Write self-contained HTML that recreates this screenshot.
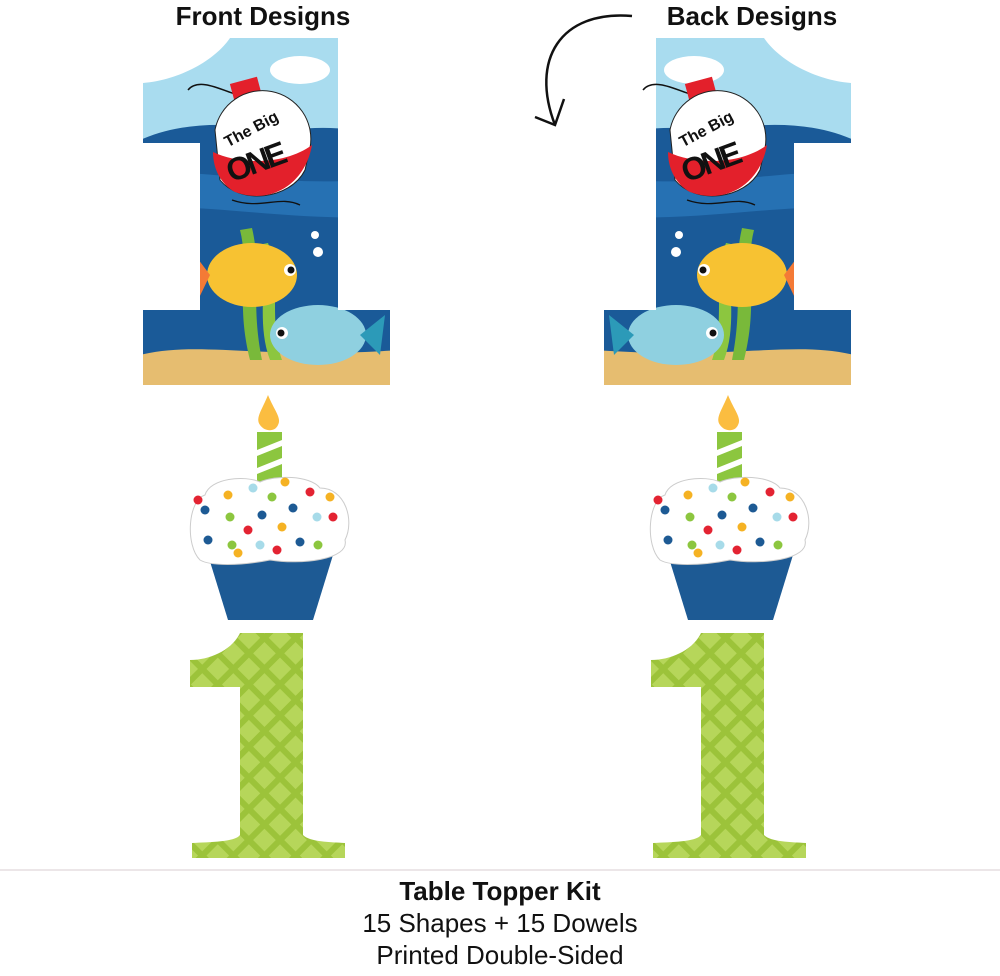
<!DOCTYPE html>
<html><head><meta charset="utf-8"><style>
html,body{margin:0;padding:0;background:#fff;}
body{width:1000px;height:976px;overflow:hidden;position:relative;font-family:"Liberation Sans",sans-serif;}
.t{position:absolute;width:1000px;text-align:center;color:#111;}
</style></head><body>
<svg width="1000" height="976" style="position:absolute;left:0;top:0">
<defs>
<clipPath id="one"><path d="M230,38 L338,38 L338,310 L390,310 L390,385 L143,385 L143,310 L200,310 L200,143 L143,143 L143,83 C180,80 215,60 230,38 Z"/></clipPath>
<pattern id="diam" width="22" height="22" patternUnits="userSpaceOnUse" patternTransform="rotate(45)"><rect width="22" height="22" fill="#9cc33a"/><rect x="3" y="3" width="16" height="16" fill="#b6d65a"/></pattern>
<g id="bigbg">
<g clip-path="url(#one)">
<rect x="140" y="30" width="260" height="360" fill="#a9dcef"/>
<ellipse cx="300" cy="70" rx="30" ry="14" fill="#fff"/>
<path d="M140,140 C190,118 240,125 290,130 C330,125 360,130 400,135 L400,390 L140,390Z" fill="#1a5a98"/>
<path d="M140,175 C200,165 260,190 400,178 L400,215 C300,225 200,200 140,210Z" fill="#2671b3"/>
<path d="M140,355 C200,340 260,360 400,350 L400,390 L140,390Z" fill="#e6bd70"/>
<path d="M240,230 C250,270 235,300 250,360 L262,360 C250,300 262,270 252,228Z" fill="#79b93a"/>
<path d="M258,245 C270,280 255,320 270,360 L282,360 C268,320 282,280 268,243Z" fill="#8cc63f"/>
<ellipse cx="252" cy="275" rx="45" ry="32" fill="#f7c232"/>
<path d="M210,275 L195,255 L198,300Z" fill="#f47a36"/>
<circle cx="290" cy="270" r="6" fill="#fff"/><circle cx="291" cy="270" r="3.5" fill="#111"/>
<ellipse cx="318" cy="335" rx="48" ry="30" fill="#8fd0e0"/>
<path d="M360,335 L385,315 L380,355Z" fill="#2c9ab8"/>
<circle cx="282" cy="333" r="6" fill="#fff"/><circle cx="281" cy="333" r="3.5" fill="#111"/>
<circle cx="315" cy="235" r="4" fill="#fff"/><circle cx="318" cy="252" r="5" fill="#fff"/>
</g>
</g>
<g id="bobber">
<path d="M188,90 C200,75 230,95 240,95" stroke="#111" stroke-width="1.5" fill="none"/>
<rect x="232" y="80" width="28" height="20" fill="#e3202b" transform="rotate(-15 246 90)"/>
<path d="M215,130 A45,45 0 0 1 310,148 L305,170 C290,200 240,205 220,180 Z" fill="#fff" stroke="#222" stroke-width="1"/>
<path d="M213,152 C240,165 285,165 312,145 C305,185 270,205 235,192 C222,185 213,170 213,152Z" fill="#e3202b"/>
<text x="222" y="140" font-family="Liberation Sans" font-weight="bold" font-size="16" transform="rotate(-28 240 132)" fill="#111">The Big</text>
<text x="225" y="172" font-family="Liberation Sans" font-weight="bold" font-size="32" transform="rotate(-20 258 160)" fill="#111" textLength="62">ONE</text>
<path d="M232,200 C260,210 280,195 300,205" stroke="#111" stroke-width="1.3" fill="none"/>
</g>
<g id="cup">
<path d="M268,395 C262,410 255,418 260,425 C265,432 275,432 278,425 C282,418 274,410 268,395Z" fill="#fbbd40"/>
<rect x="257" y="432" width="25" height="50" fill="#8cc63f"/>
<path d="M257,450 L282,440 L282,446 L257,456Z M257,468 L282,458 L282,464 L257,474Z" fill="#fff"/>
<path d="M208,555 L333,555 L313,620 L228,620Z" fill="#1d5a94"/>
<path d="M200,560 C185,545 188,500 205,495 C210,478 245,475 260,482 C275,475 310,475 320,488 C345,488 355,520 345,540 C350,560 300,565 270,560 C240,566 210,566 200,560Z" fill="#fff" stroke="#ccc" stroke-width="1"/>
<g>
<circle cx="228" cy="495" r="4.5" fill="#f5b223"/><circle cx="198" cy="500" r="4.5" fill="#e32332"/><circle cx="205" cy="510" r="4.5" fill="#1d5a94"/>
<circle cx="253" cy="488" r="4.5" fill="#a7dbe9"/><circle cx="272" cy="497" r="4.5" fill="#8cc63f"/><circle cx="285" cy="482" r="4.5" fill="#f5b223"/>
<circle cx="310" cy="492" r="4.5" fill="#e32332"/><circle cx="330" cy="497" r="4.5" fill="#f5b223"/><circle cx="293" cy="508" r="4.5" fill="#1d5a94"/>
<circle cx="230" cy="517" r="4.5" fill="#8cc63f"/><circle cx="262" cy="515" r="4.5" fill="#1d5a94"/><circle cx="317" cy="517" r="4.5" fill="#a7dbe9"/>
<circle cx="333" cy="517" r="4.5" fill="#e32332"/><circle cx="248" cy="530" r="4.5" fill="#e32332"/><circle cx="282" cy="527" r="4.5" fill="#f5b223"/>
<circle cx="208" cy="540" r="4.5" fill="#1d5a94"/><circle cx="232" cy="545" r="4.5" fill="#8cc63f"/><circle cx="260" cy="545" r="4.5" fill="#a7dbe9"/>
<circle cx="277" cy="550" r="4.5" fill="#e32332"/><circle cx="300" cy="542" r="4.5" fill="#1d5a94"/><circle cx="318" cy="545" r="4.5" fill="#8cc63f"/><circle cx="238" cy="553" r="4.5" fill="#f5b223"/>
</g>
</g>
<g id="green"><path d="M240,633 L303,633 L303,835 C310,842 330,842 345,843 L345,858 L192,858 L192,843 C210,842 235,842 240,835 L240,687 L190,687 L190,660 C210,660 232,650 240,633Z" fill="url(#diam)"/></g>
</defs>
<use href="#bigbg"/>
<use href="#bobber"/>
<use href="#bigbg" transform="translate(994,0) scale(-1,1)"/>
<use href="#bobber" transform="translate(455,0)"/>
<use href="#cup"/>
<use href="#cup" transform="translate(460,0)"/>
<use href="#green"/>
<use href="#green" transform="translate(461,0)"/>
<path d="M632,16 C560,10 530,60 555,125" stroke="#111" stroke-width="2.5" fill="none"/>
<path d="M535,117 L555,125 L564,99" stroke="#111" stroke-width="2.5" fill="none"/>
<rect x="0" y="869" width="1000" height="2" fill="#ece6e8"/>
</svg>
<div class="t" style="left:-237px;top:1px;font-size:26px;font-weight:bold">Front Designs</div>
<div class="t" style="left:252px;top:1px;font-size:26px;font-weight:bold">Back Designs</div>
<div class="t" style="top:876px;font-size:26px;font-weight:bold">Table Topper Kit</div>
<div class="t" style="top:908px;font-size:26px">15 Shapes + 15 Dowels</div>
<div class="t" style="top:940px;font-size:26px">Printed Double-Sided</div>
</body></html>
